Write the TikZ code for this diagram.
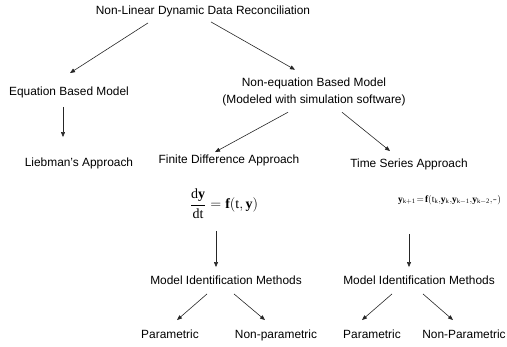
\documentclass[tikz,border=0pt]{standalone}
\usepackage{fontspec}
\setmainfont{Liberation Sans}
\setmathrm{Liberation Serif}
\usepackage{amsmath}
\usepackage{graphicx}
\usetikzlibrary{arrows.meta,positioning,calc}

\tikzset{
  label/.style={inner sep=0pt, text height=9pt, text depth=2.5pt,
    font=\fontsize{11.9}{17}\selectfont},
  twoline/.style={inner sep=0pt, align=center, font=\fontsize{11.9}{17}\selectfont},
  arr/.style={draw=black!85, line width=0.6pt, -{Triangle[length=5pt,width=4pt]}}
}
\newcommand{\sk}[1]{_{\mathrm{#1}}}
\newcommand{\tightdots}{\mathord{\cdot}\mkern-3mu\mathord{\cdot}\mkern-3mu\mathord{\cdot}}

\begin{document}
\begin{tikzpicture}[x=1pt,y=-1pt]
			\useasboundingbox (0,0) rectangle (507,347);
			% Top
			\node[label] (title) at (203,11) {Non-Linear Dynamic Data Reconciliation};
			
			% Equation based branch
			\node[label] (eqmodel) at (69,92) {Equation Based Model};
			\node[label] (liebman) at (79,163) {Liebman's Approach};
			
			% Non-equation based branch
			\node[twoline] (noneq) at (314,92) {Non-equation Based Model\\(Modeled with simulation software)};
			\node[label] (fda) at (229,160) {Finite Difference Approach};
			\node[label] (tsa) at (409,164) {Time Series Approach};
			\node[inner sep=0pt, font=\fontsize{14}{14}\selectfont] (fdaeq) at (224,204)
				{$\dfrac{\mathrm{d}\mathbf{y}}{\mathrm{dt}}=\mathbf{f}(\mathrm{t}{,}\,\mathbf{y})$};
			\node[inner sep=0pt, font=\fontsize{11}{11}\selectfont] (tsaeq) at (449.5,200)
				{\resizebox{103pt}{!}{$\mathbf{y}\sk{k+1}\mkern2mu{=}\mkern2mu\mathbf{f}(\mathrm{t}\sk{k}{,}\mathbf{y}\sk{k}{,}\mathbf{y}\sk{k-1}{,}\mathbf{y}\sk{k-2}{,}\tightdots)$}};
			
			% Model identification
			\node[label] (fdamim) at (226,281) {Model Identification Methods};
			\node[label] (tsamim) at (419,281) {Model Identification Methods};
			\node[label] (fdapar) at (170,335) {Parametric};
			\node[label] (fdanonpar) at (276,335) {Non-parametric};
			\node[label] (tsapar) at (372,335) {Parametric};
			\node[label] (tsanonpar) at (464,335) {Non-Parametric};
			
			% Arrows
			\draw[arr] ([shift={(-55,6)}]title.south) -- ([shift={(1,-13)}]eqmodel.north);
			\draw[arr] ([shift={(8,5)}]title.south) -- ([shift={(-19,-8)}]noneq.north);
			\draw[arr] ([shift={(-6,9)}]eqmodel.south) -- ([shift={(-16,-20)}]liebman.north);
			\draw[arr] ([shift={(-26,6)}]noneq.south) -- ([shift={(-14,-2)}]fda.north);
			\draw[arr] ([shift={(28,6)}]noneq.south) -- ([shift={(-19,-7)}]tsa.north);
			\draw[arr] ([shift={(-8,12)}]fdaeq.south) -- ([shift={(-10,-8)}]fdamim.north);
			\draw[arr] ([shift={(-40.5,29)}]tsaeq.south) -- ([shift={(-10,-8)}]tsamim.north);
			\draw[arr] ([shift={(-19,7)}]fdamim.south) -- ([shift={(7,-9)}]fdapar.north);
			\draw[arr] ([shift={(8,7)}]fdamim.south) -- ([shift={(-11,-9)}]fdanonpar.north);
			\draw[arr] ([shift={(-27,7)}]tsamim.south) -- ([shift={(-10,-9)}]tsapar.north);
			\draw[arr] ([shift={(4,7)}]tsamim.south) -- ([shift={(-11,-9)}]tsanonpar.north);
		\end{tikzpicture}
\end{document}
